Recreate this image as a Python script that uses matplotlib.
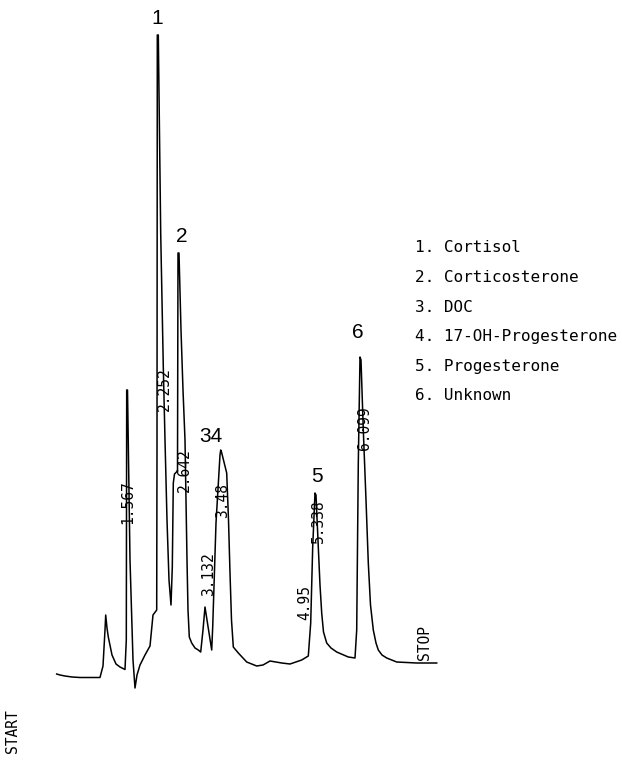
import matplotlib
matplotlib.use("Agg")
import matplotlib.pyplot as plt

# chromatogram trace (chart position, detector response)
trace_x = [56.7, 60, 65, 72, 80, 100, 103, 105, 105.7, 107, 108.3, 112, 116, 120, 125,
           126.3, 126.7, 127.5, 130, 133, 135, 137, 140, 145, 150, 153, 156.7,
           157, 157.3, 158.3, 160.7, 163.3, 165, 167, 169, 171, 172.3, 173.3,
           174.5, 176.5, 177.5, 178, 179, 181, 183, 185, 186, 187, 188, 189.3,
           191.7, 195, 198.3, 200.7, 203, 205, 207, 211.7, 212.7, 216, 220, 220.7,
           221.5, 226.7, 228.5, 230, 231.5, 233.3, 238.3, 246.7, 256.7, 263, 270,
           281.7, 290, 301.7, 308.3, 310.7, 312.7, 315, 316, 318.3, 320, 321.7,
           323.5, 326.7, 331, 336.7, 348.3, 355, 356.7, 358.3, 360, 361, 363.3,
           366, 368.3, 370.5, 373.3, 376, 378.3, 382, 386.7, 396.7, 416.7, 436.7]
trace_y = [6, 5, 4, 3, 2.5, 2.5, 14, 50, 65, 52, 43, 25, 16, 13, 10.5,
           40, 290, 290, 120, 20, -8, 5, 15, 25, 34, 65, 70,
           230, 645, 645, 447, 313, 240, 160, 100, 75, 113, 197,
           206, 208, 210, 427, 427, 350, 290, 240, 180, 120, 70, 43,
           37, 32, 30, 28, 50, 73, 60, 30, 53, 157, 225, 230,
           228, 207, 160, 107, 60, 33, 27, 18, 14, 15, 19,
           17, 16, 20, 24, 57, 133, 187, 185, 133, 95, 67,
           48, 37, 32, 28, 23, 22, 50, 217, 323, 320, 250,
           180, 117, 75, 50, 37, 30, 25, 22, 18, 17, 17]

# retention times printed by the integrator
rt_labels = ["1.567", "2.252", "2.642", "3.132", "3.48", "4.95", "5.338", "6.099"]
rt_x = [128, 164, 184, 209, 223, 305, 318, 365]
rt_y = [178, 291, 210, 106, 180, 77, 159, 252]

# peak numbers
peak_labels = ["1", "2", "34", "5", "6"]
peak_x = [157, 182, 211, 317, 358]
peak_y = [662, 443, 243, 204, 347]

legend_items = ["1. Cortisol", "2. Corticosterone", "3. DOC",
                "4. 17-OH-Progesterone", "5. Progesterone", "6. Unknown"]

fig = plt.figure(figsize=(6.22, 7.63), dpi=100)
ax = fig.add_axes([0, 0, 1, 1])
ax.set_xlim(0, 622)
ax.set_ylim(-83, 680)
ax.axis("off")

ax.plot(trace_x, trace_y, color="black", lw=1.1)

for lab, x, y in zip(rt_labels, rt_x, rt_y):
    ax.text(x, y, lab, rotation=90, ha="center", va="center",
            family="DejaVu Sans Mono", fontsize=10.5)

for lab, x, y in zip(peak_labels, peak_x, peak_y):
    ax.text(x, y, lab, ha="center", va="center",
            family="Liberation Sans", fontsize=15)

ax.text(425, 37, "STOP", rotation=90, ha="center", va="center",
        family="DejaVu Sans Mono", fontsize=10.5)
ax.text(13, -51, "START", rotation=90, ha="center", va="center",
        family="DejaVu Sans Mono", fontsize=10.5)

for i, item in enumerate(legend_items):
    ax.text(415, 432 - i * 29.5, item, ha="left", va="center",
            family="DejaVu Sans Mono", fontsize=11.5)

fig.savefig("out.png", dpi=100)
